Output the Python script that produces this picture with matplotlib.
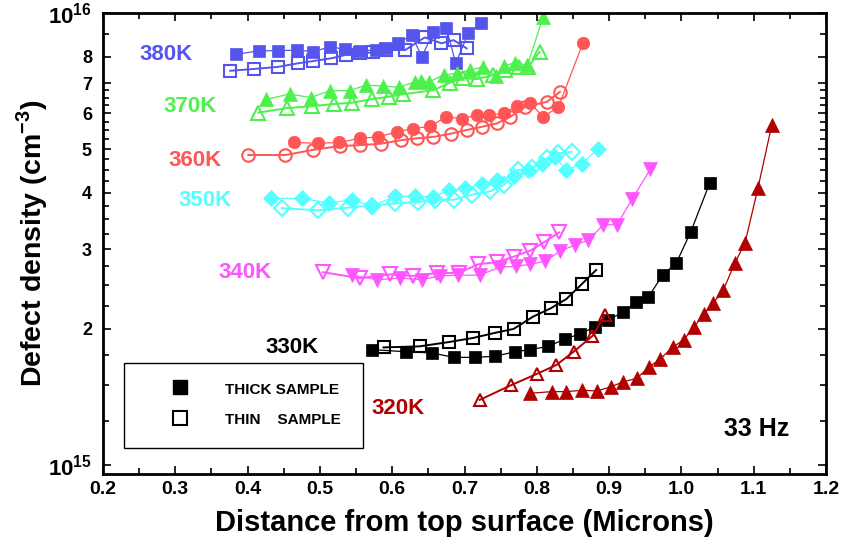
import numpy as np
import matplotlib
matplotlib.use('Agg')
import matplotlib.pyplot as plt
from matplotlib.patches import Rectangle
from matplotlib.ticker import FixedLocator, NullFormatter

plt.rcParams['font.family'] = 'Liberation Sans'
plt.rcParams['font.weight'] = 'bold'
plt.rcParams['axes.labelweight'] = 'bold'
plt.rcParams['mathtext.fontset'] = 'custom'
plt.rcParams['mathtext.rm'] = 'Liberation Sans:bold'
plt.rcParams['mathtext.bf'] = 'Liberation Sans:bold'

# defect density in units of 1e15 cm^-3, distance in microns
x380_thick = [0.384, 0.416, 0.442, 0.469, 0.491, 0.514, 0.535, 0.555, 0.578, 0.590, 0.608, 0.627, 0.641, 0.657, 0.675, 0.688, 0.705, 0.723]
y380_thick = [8.10, 8.25, 8.25, 8.28, 8.21, 8.42, 8.31, 8.25, 8.28, 8.35, 8.57, 8.94, 8.00, 9.09, 9.25, 7.74, 9.02, 9.52]
x380_thin = [0.376, 0.409, 0.442, 0.470, 0.491, 0.516, 0.536, 0.555, 0.574, 0.592, 0.618, 0.645, 0.668, 0.685, 0.703]
y380_thin = [7.45, 7.52, 7.60, 7.74, 7.83, 7.94, 8.08, 8.15, 8.18, 8.28, 8.28, 8.83, 8.57, 8.71, 8.35]

x370_thick = [0.426, 0.458, 0.487, 0.514, 0.541, 0.564, 0.587, 0.610, 0.631, 0.640, 0.651, 0.671, 0.689, 0.708, 0.726, 0.744, 0.754, 0.770, 0.787, 0.809]
y370_thick = [6.44, 6.62, 6.50, 6.73, 6.73, 6.93, 6.89, 6.85, 7.04, 7.08, 7.04, 7.29, 7.36, 7.48, 7.60, 7.25, 7.64, 7.76, 7.67, 9.81]
x370_thin = [0.415, 0.454, 0.489, 0.519, 0.544, 0.572, 0.596, 0.615, 0.657, 0.680, 0.698, 0.717, 0.740, 0.756, 0.776, 0.788, 0.804]
y370_thin = [6.02, 6.16, 6.22, 6.29, 6.33, 6.45, 6.53, 6.61, 6.75, 7.01, 7.17, 7.14, 7.29, 7.48, 7.60, 7.60, 8.20]

x360_thick = [0.464, 0.498, 0.527, 0.555, 0.581, 0.607, 0.629, 0.652, 0.675, 0.696, 0.717, 0.734, 0.754, 0.772, 0.791, 0.809, 0.830, 0.864]
y360_thick = [5.17, 5.15, 5.17, 5.28, 5.32, 5.46, 5.55, 5.61, 5.89, 5.84, 5.94, 5.94, 6.00, 6.22, 6.31, 5.89, 6.20, 8.60]
x360_thin = [0.401, 0.452, 0.491, 0.528, 0.556, 0.585, 0.612, 0.634, 0.657, 0.682, 0.703, 0.724, 0.745, 0.763, 0.784, 0.814, 0.832]
y360_thin = [4.85, 4.85, 4.98, 5.08, 5.10, 5.14, 5.23, 5.28, 5.32, 5.41, 5.51, 5.60, 5.70, 5.89, 6.20, 6.36, 6.69]

x350_thick = [0.433, 0.475, 0.512, 0.544, 0.572, 0.604, 0.632, 0.656, 0.678, 0.701, 0.724, 0.745, 0.768, 0.788, 0.807, 0.825, 0.841, 0.862, 0.885]
y350_thick = [3.89, 3.89, 3.80, 3.86, 3.74, 3.93, 3.93, 3.92, 4.05, 4.09, 4.18, 4.28, 4.36, 4.49, 4.64, 4.80, 4.49, 4.64, 5.01]
x350_thin = [0.447, 0.498, 0.539, 0.572, 0.604, 0.636, 0.659, 0.685, 0.710, 0.735, 0.754, 0.774, 0.793, 0.814, 0.830, 0.848]
y350_thin = [3.70, 3.66, 3.71, 3.75, 3.79, 3.82, 3.86, 3.86, 3.96, 4.03, 4.16, 4.49, 4.53, 4.77, 4.89, 4.93]

x340_thick = [0.544, 0.579, 0.611, 0.641, 0.666, 0.691, 0.721, 0.749, 0.771, 0.791, 0.811, 0.832, 0.853, 0.871, 0.892, 0.911, 0.932, 0.957]
y340_thick = [2.63, 2.57, 2.59, 2.57, 2.62, 2.63, 2.63, 2.74, 2.75, 2.78, 2.82, 2.97, 3.07, 3.14, 3.40, 3.40, 3.88, 4.51]
x340_thin = [0.504, 0.555, 0.597, 0.629, 0.662, 0.692, 0.719, 0.745, 0.768, 0.791, 0.810, 0.831]
y340_thin = [2.67, 2.59, 2.64, 2.62, 2.66, 2.66, 2.78, 2.81, 2.89, 2.98, 3.11, 3.27]

x330_thick = [0.572, 0.619, 0.655, 0.685, 0.715, 0.742, 0.770, 0.791, 0.816, 0.839, 0.860, 0.880, 0.899, 0.919, 0.937, 0.954, 0.974, 0.993, 1.013, 1.039]
y330_thick = [1.80, 1.78, 1.77, 1.73, 1.73, 1.74, 1.78, 1.80, 1.83, 1.90, 1.95, 2.02, 2.09, 2.18, 2.29, 2.35, 2.63, 2.80, 3.28, 4.20]
x330_thin = [0.588, 0.638, 0.678, 0.712, 0.742, 0.768, 0.795, 0.819, 0.841, 0.863, 0.882]
y330_thin = [1.82, 1.83, 1.87, 1.91, 1.96, 2.00, 2.13, 2.22, 2.33, 2.52, 2.70]

x320_thick = [0.791, 0.821, 0.841, 0.863, 0.883, 0.902, 0.919, 0.938, 0.955, 0.970, 0.988, 1.003, 1.017, 1.031, 1.044, 1.058, 1.074, 1.088, 1.106, 1.125]
y320_thick = [1.441, 1.453, 1.453, 1.463, 1.458, 1.488, 1.526, 1.555, 1.645, 1.713, 1.822, 1.890, 2.015, 2.153, 2.279, 2.439, 2.798, 3.10, 4.107, 5.65]
x320_thin = [0.721, 0.765, 0.800, 0.827, 0.851, 0.877, 0.894]
y320_thin = [1.393, 1.503, 1.590, 1.664, 1.781, 1.929, 2.147]

blue = '#5555ee'
green = '#4ef04e'
red = '#ff5555'
cyan = '#55ffff'
magenta = '#ff55ff'
black = '#000000'
darkred = '#b00000'

series = [
    (x380_thick, y380_thick, blue, 's', 9, True),
    (x380_thin, y380_thin, blue, 's', 9, False),
    (x370_thick, y370_thick, green, '^', 10, True),
    (x370_thin, y370_thin, green, '^', 10, False),
    (x360_thick, y360_thick, red, 'o', 9, True),
    (x360_thin, y360_thin, red, 'o', 9, False),
    (x350_thick, y350_thick, cyan, 'D', 8, True),
    (x350_thin, y350_thin, cyan, 'D', 8, False),
    (x340_thick, y340_thick, magenta, 'v', 10, True),
    (x340_thin, y340_thin, magenta, 'v', 10, False),
    (x330_thick, y330_thick, black, 's', 9, True),
    (x330_thin, y330_thin, black, 's', 9, False),
    (x320_thick, y320_thick, darkred, '^', 10, True),
    (x320_thin, y320_thin, darkred, '^', 9, False),
]

fig = plt.figure(figsize=(8.52, 5.48), dpi=100)
ax = fig.add_axes([103/852, 74/548, 723/852, 461/548])

for xs, ys, c, m, ms, filled in series:
    ys = np.array(ys) * 1e15
    if filled:
        ax.plot(xs, ys, color=c, lw=0.9, marker=m, ms=ms, mfc=c, mec=c, mew=0.5)
    else:
        ax.plot(xs, ys, color=c, lw=1.4, marker=m, ms=ms, mfc='none', mec=c, mew=1.5)

ax.set_xlim(0.2, 1.2)
ax.set_yscale('log')
ax.set_ylim(0.955e15, 1e16)

ax.set_xticks(np.round(np.arange(0.2, 1.21, 0.1), 1))
ax.set_xticklabels(['%.1f' % v for v in np.arange(0.2, 1.21, 0.1)])
ax.xaxis.set_minor_locator(FixedLocator(np.arange(0.25, 1.2, 0.1)))

major_y = [1e15, 2e15, 3e15, 4e15, 5e15, 6e15, 7e15, 8e15, 1e16]
ax.yaxis.set_major_locator(FixedLocator(major_y))
ax.set_yticklabels([r'$\mathbf{10^{15}}$', '2', '3', '4', '5', '6', '7', '8', r'$\mathbf{10^{16}}$'])
minor_y = [1.25, 1.5, 1.75, 2.25, 2.5, 2.75, 3.25, 3.5, 3.75, 4.25, 4.5, 4.75,
           5.25, 5.5, 5.75, 6.25, 6.5, 6.75, 9]
ax.yaxis.set_minor_locator(FixedLocator([v * 1e15 for v in minor_y]))
ax.yaxis.set_minor_formatter(NullFormatter())

ax.tick_params(which='both', direction='in', top=True, right=True, width=1.2)
ax.tick_params(which='major', length=6, labelsize=14)
ax.tick_params(which='minor', length=4)
ax.tick_params(axis='y', pad=8, labelsize=13)
ax.tick_params(axis='x', pad=5)
for lab in ax.get_yticklabels():
    if '10' in lab.get_text():
        lab.set_fontsize(16)
for s in ax.spines.values():
    s.set_linewidth(2)

ax.set_xlabel('Distance from top surface (Microns)', fontsize=21, labelpad=8)
ax.set_ylabel(r'Defect density (cm$^{\mathbf{-3}}$)', fontsize=20.5)
ax.yaxis.set_label_coords(-0.073, 0.5)

labels = [('380K', 0.051, 0.911, blue), ('370K', 0.083, 0.798, green),
          ('360K', 0.090, 0.681, red), ('350K', 0.105, 0.594, cyan),
          ('340K', 0.159, 0.438, magenta), ('330K', 0.224, 0.275, black),
          ('320K', 0.371, 0.143, darkred)]
for t, xa, ya, c in labels:
    ax.text(xa, ya, t, color=c, fontsize=16, transform=ax.transAxes, ha='left', va='center')
ax.text(0.859, 0.098, '33 Hz', fontsize=18, transform=ax.transAxes, ha='left', va='center')

# legend box
ax.add_patch(Rectangle((0.029, 0.056), 0.331, 0.185, transform=ax.transAxes,
                       fill=False, ec='black', lw=1.0))
ax.plot([0.1065], [0.189], marker='s', ms=10, color='black', transform=ax.transAxes)
ax.plot([0.1065], [0.121], marker='s', ms=10, mfc='none', mec='black', mew=1.5, transform=ax.transAxes)
ax.text(0.169, 0.183, 'THICK SAMPLE', fontsize=11, transform=ax.transAxes, va='center')
ax.text(0.169, 0.117, 'THIN    SAMPLE', fontsize=11, transform=ax.transAxes, va='center')

fig.savefig('out.png', dpi=100)
